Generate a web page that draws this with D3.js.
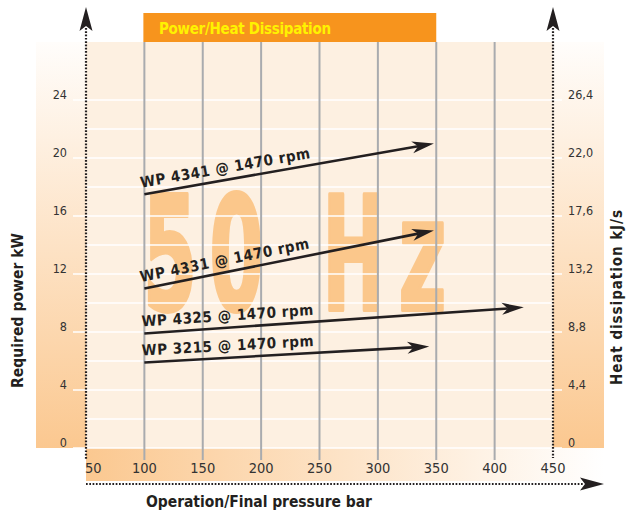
<!DOCTYPE html>
<html><head><meta charset="utf-8">
<script src="https://cdn.jsdelivr.net/npm/d3@7/dist/d3.min.js"></script>
<style>
html,body{margin:0;padding:0;background:#fff;}
svg{display:block;}
</style></head>
<body>
<script>
// ---------- data ----------
const xTicks = [50, 100, 150, 200, 250, 300, 350, 400, 450];
const gridX = [100, 150, 200, 250, 300, 350, 400];
const powerTicks = [0, 4, 8, 12, 16, 20, 24];
const heatLabels = ["0", "4,4", "8,8", "13,2", "17,6", "22,0", "26,4"];
const gridPower = [0, 2, 4, 6, 8, 10, 12, 14, 16, 18, 20, 22, 24];
const seriesNames = ["WP 4341 @ 1470 rpm", "WP 4331 @ 1470 rpm", "WP 4325 @ 1470 rpm", "WP 3215 @ 1470 rpm"];
const pressureStart = [100, 100, 100, 100];
const pressureEnd = [348, 348, 425, 344];
const powerStart = [17.5, 11.0, 7.9, 5.9];
const powerEnd = [21.0, 15.0, 9.7, 7.0];
const titleText = "Power/Heat Dissipation";
const xTitle = "Operation/Final pressure bar";
const yTitleLeft = "Required power kW";
const yTitleRight = "Heat dissipation kJ/s";
const watermark = ["5", "0", "H", "z"];
const titleRange = [100, 350];

// ---------- layout ----------
const W = 627, H = 513;
const NARROW = "'Liberation Sans Narrow','Arial Narrow','DejaVu Sans Condensed',sans-serif";
const INK = "#231f20";
const x = d3.scaleLinear().domain([50, 450]).range([86, 553]);
const y = d3.scaleLinear().domain([0, 28]).range([448, 42]);

const svg = d3.select("body").append("svg").attr("width", W).attr("height", H);
const defs = svg.append("defs");
const gV = defs.append("linearGradient").attr("id", "gV").attr("x1", 0).attr("y1", 0).attr("x2", 0).attr("y2", 1);
gV.append("stop").attr("offset", 0).attr("stop-color", "#fffdfb");
gV.append("stop").attr("offset", 1).attr("stop-color", "#fbc890");
const gH = defs.append("linearGradient").attr("id", "gH").attr("x1", 0).attr("y1", 0).attr("x2", 1).attr("y2", 0);
gH.append("stop").attr("offset", 0).attr("stop-color", "#fbc890");
gH.append("stop").attr("offset", 1).attr("stop-color", "#ffffff");

const [xl, xr] = x.range();
const yTop = y(28), yBot = y(0);

// bands
svg.append("rect").attr("x", 36).attr("y", yTop).attr("width", xl - 36).attr("height", yBot - yTop).attr("fill", "url(#gV)");
svg.append("rect").attr("x", xr).attr("y", yTop).attr("width", 604 - xr).attr("height", yBot - yTop).attr("fill", "url(#gV)");
svg.append("rect").attr("x", xl).attr("y", yBot).attr("width", 604 - xl).attr("height", 33).attr("fill", "url(#gH)");
// plot area
svg.append("rect").attr("x", xl).attr("y", yTop).attr("width", xr - xl).attr("height", yBot - yTop).attr("fill", "#fdf0e1");

// title bar
svg.append("rect").attr("x", x(titleRange[0]) - 1).attr("y", 13).attr("width", x(titleRange[1]) - x(titleRange[0]) + 1).attr("height", yTop - 13).attr("fill", "#f7941d");
svg.append("text").attr("x", 159).attr("y", 34).text(titleText)
  .attr("font-family", NARROW).attr("font-weight", "bold").attr("font-size", 15)
  .attr("fill", "#fff200").attr("textLength", 172).attr("lengthAdjust", "spacing");

// watermark
const wmCenters = [170, 236.5, 353.5, 422.5];
const wmAdv = [54, 54, 62, 48];
const wm = svg.append("g").attr("fill", "#fbc78b").attr("stroke", "#fbc78b").attr("stroke-width", 4).attr("stroke-linejoin", "round");
watermark.forEach((c, i) => {
  const t = wm.append("text").text(c).attr("font-family", NARROW).attr("font-weight", "bold")
    .attr("font-size", 158).attr("text-anchor", "middle");
  const len = t.node().getComputedTextLength();
  const sx = wmAdv[i] / len;
  t.attr("transform", `translate(${wmCenters[i]},310) scale(${sx},1)`);
});

// horizontal white grid lines
const labeled = new Set(powerTicks);
svg.append("g").selectAll("line").data(gridPower).join("line")
  .attr("x1", d => labeled.has(d) ? 73 : xl).attr("x2", d => labeled.has(d) ? 562 : xr)
  .attr("y1", d => y(d)).attr("y2", d => y(d))
  .attr("stroke", "#ffffff").attr("stroke-width", 1.6);

// vertical grey grid lines
svg.append("g").selectAll("line").data(gridX).join("line")
  .attr("x1", d => x(d)).attr("x2", d => x(d)).attr("y1", yTop).attr("y2", 460)
  .attr("stroke", "#a9abae").attr("stroke-width", 2);

// dotted axes
const dot = { "stroke": INK, "stroke-width": 2.2, "stroke-dasharray": "1.7,1.6" };
function dotted(x1, y1, x2, y2) {
  const l = svg.append("line").attr("x1", x1).attr("y1", y1).attr("x2", x2).attr("y2", y2);
  Object.entries(dot).forEach(([k, v]) => l.attr(k, v));
}
dotted(xl, 28, xl, 460);
dotted(xr, 28, xr, 458);
dotted(xl, 484, 584, 484);

function arrowHead(tx, ty, ang, L, w, n) {
  const ux = Math.cos(ang), uy = Math.sin(ang), vx = -uy, vy = ux;
  const pts = [
    [tx, ty],
    [tx - L * ux + w * vx, ty - L * uy + w * vy],
    [tx - (L - n) * ux, ty - (L - n) * uy],
    [tx - L * ux - w * vx, ty - L * uy - w * vy]
  ];
  svg.append("path").attr("d", "M" + pts.map(p => p.join(",")).join("L") + "Z").attr("fill", INK);
  return [tx - (L - n) * ux, ty - (L - n) * uy];
}
arrowHead(xl, 7, -Math.PI / 2, 24, 6.5, 5);
arrowHead(xr, 7, -Math.PI / 2, 24, 6.5, 5);
arrowHead(604, 484, 0, 24, 6.5, 5);

// axis tick labels
svg.append("g").selectAll("text").data(powerTicks).join("text")
  .attr("x", 67).attr("y", d => y(d) - 1).attr("text-anchor", "end").text(d => d)
  .attr("font-family", NARROW).attr("font-size", 12.5).attr("fill", "#333");
svg.append("g").selectAll("text").data(powerTicks).join("text")
  .attr("x", 568).attr("y", d => y(d) - 1).text((d, i) => heatLabels[i])
  .attr("font-family", NARROW).attr("font-size", 12.5).attr("fill", "#333");
svg.append("g").selectAll("text").data(xTicks).join("text")
  .attr("x", (d, i) => i === 0 ? x(d) - 1 : x(d)).attr("y", 473)
  .attr("text-anchor", (d, i) => i === 0 ? "start" : "middle").text(d => d)
  .attr("font-family", NARROW).attr("font-size", 14.5).attr("fill", "#333");

// axis titles
svg.append("text").attr("x", 146).attr("y", 507).text(xTitle)
  .attr("font-family", NARROW).attr("font-weight", "bold").attr("font-size", 15.5).attr("fill", INK)
  .attr("textLength", 226).attr("lengthAdjust", "spacing");
svg.append("text").attr("transform", "translate(23,388) rotate(-90)").text(yTitleLeft)
  .attr("font-family", NARROW).attr("font-weight", "bold").attr("font-size", 15.5).attr("fill", INK)
  .attr("textLength", 155).attr("lengthAdjust", "spacing");
svg.append("text").attr("transform", "translate(622,385) rotate(-90)").text(yTitleRight)
  .attr("font-family", NARROW).attr("font-weight", "bold").attr("font-size", 15).attr("fill", INK)
  .attr("textLength", 175).attr("lengthAdjust", "spacing");

// series arrows
seriesNames.forEach((name, i) => {
  const x0 = x(pressureStart[i]), y0 = y(powerStart[i]);
  const x1 = x(pressureEnd[i]), y1 = y(powerEnd[i]);
  const ang = Math.atan2(y1 - y0, x1 - x0);
  const back = arrowHead(x1, y1, ang, 22, 6, 6);
  svg.append("line").attr("x1", x0).attr("y1", y0).attr("x2", back[0]).attr("y2", back[1])
    .attr("stroke", INK).attr("stroke-width", 2.6);
  svg.append("text").attr("transform", `translate(${x0},${y0}) rotate(${ang * 180 / Math.PI})`)
    .attr("x", -2).attr("y", -7).text(name)
    .attr("font-family", NARROW).attr("font-weight", "bold").attr("font-size", 15).attr("fill", INK)
    .attr("textLength", 172).attr("lengthAdjust", "spacing");
});
</script>
</body></html>
